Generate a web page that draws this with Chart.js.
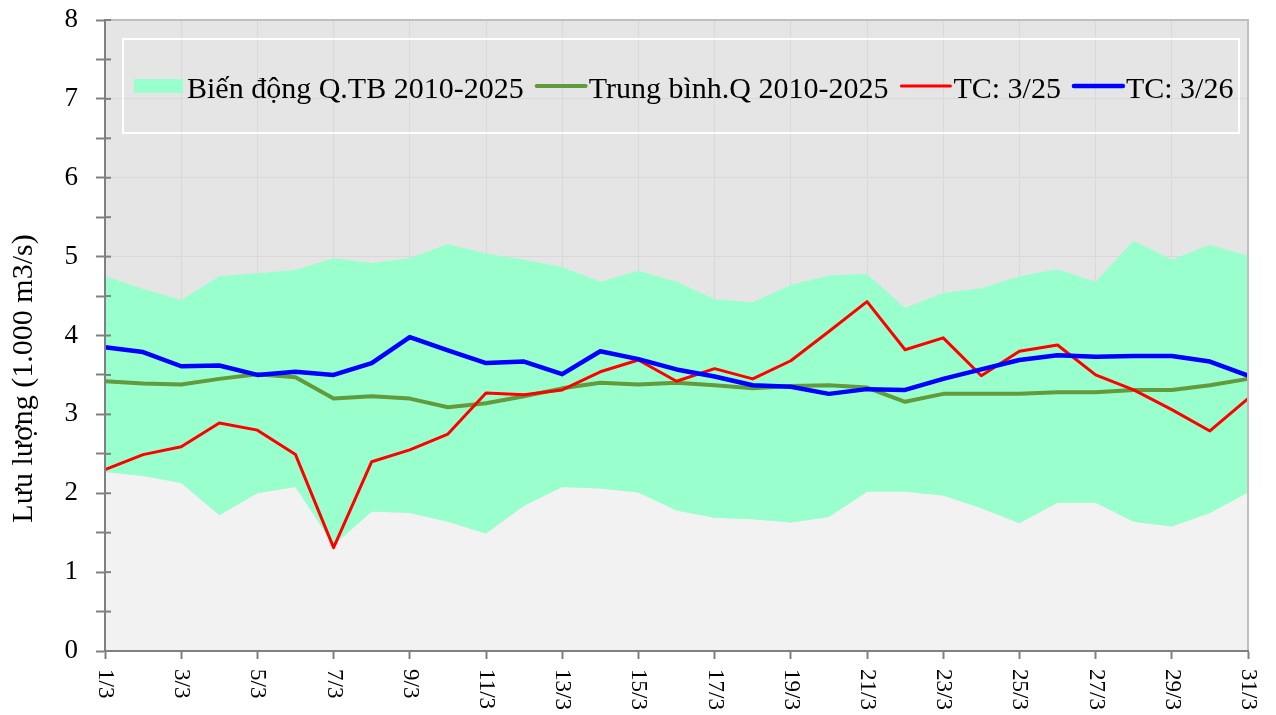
<!DOCTYPE html>
<html>
<head>
<meta charset="utf-8">
<script src="https://cdn.jsdelivr.net/npm/chart.js@4"></script>
<style>
  body { margin: 0; background: #fff; }
</style>
</head>
<body>
<canvas id="flowChart" width="1276" height="715"></canvas>
<script>
// ngày trong tháng 3
const days = ['1/3', '2/3', '3/3', '4/3', '5/3', '6/3', '7/3', '8/3', '9/3', '10/3',
    '11/3', '12/3', '13/3', '14/3', '15/3', '16/3', '17/3', '18/3', '19/3', '20/3',
    '21/3', '22/3', '23/3', '24/3', '25/3', '26/3', '27/3', '28/3', '29/3', '30/3', '31/3'];

// Biến động Q.TB 2010-2025 (min / max)
const qMin = [2.27, 2.22, 2.13, 1.72, 2.00, 2.08, 1.34, 1.77, 1.75, 1.64,
    1.49, 1.84, 2.08, 2.06, 2.01, 1.78, 1.69, 1.67, 1.63, 1.70,
    2.02, 2.02, 1.97, 1.81, 1.62, 1.88, 1.88, 1.64, 1.58, 1.75, 2.01];
const qMax = [4.75, 4.59, 4.45, 4.75, 4.79, 4.83, 4.98, 4.92, 4.98, 5.16,
    5.04, 4.96, 4.87, 4.68, 4.82, 4.68, 4.46, 4.42, 4.64, 4.76,
    4.78, 4.35, 4.54, 4.60, 4.75, 4.84, 4.68, 5.20, 4.96, 5.15, 5.01];

// Trung bình.Q 2010-2025
const qAvg = [3.42, 3.39, 3.38, 3.45, 3.51, 3.47, 3.20, 3.23, 3.20, 3.09,
    3.14, 3.23, 3.33, 3.40, 3.38, 3.40, 3.37, 3.33, 3.36, 3.37,
    3.34, 3.16, 3.26, 3.26, 3.26, 3.28, 3.28, 3.31, 3.31, 3.37, 3.45];

// TC: 3/25
const tc25 = [2.30, 2.49, 2.59, 2.89, 2.80, 2.49, 1.31, 2.40, 2.55, 2.75,
    3.27, 3.25, 3.31, 3.54, 3.69, 3.42, 3.58, 3.45, 3.68, 4.05,
    4.43, 3.82, 3.97, 3.49, 3.80, 3.88, 3.50, 3.31, 3.06, 2.79, 3.20];

// TC: 3/26
const tc26 = [3.85, 3.79, 3.61, 3.62, 3.50, 3.54, 3.50, 3.65, 3.98, 3.81,
    3.65, 3.67, 3.51, 3.80, 3.70, 3.57, 3.48, 3.37, 3.35, 3.26,
    3.32, 3.31, 3.45, 3.57, 3.69, 3.75, 3.73, 3.74, 3.74, 3.67, 3.49];

const yTicks = [0, 1, 2, 3, 4, 5, 6, 7, 8];

const FONT = "'Liberation Serif', 'Times New Roman', serif";
Chart.defaults.font.family = FONT;
Chart.defaults.color = '#000';

// nền vùng vẽ, nhãn trục X xoay, tiêu đề trục Y và chú thích kiểu Excel
const excelLook = {
    id: 'excelLook',
    beforeDraw(chart) {
        const { ctx, chartArea: a } = chart;
        ctx.save();
        ctx.fillStyle = '#e5e5e5';
        ctx.fillRect(a.left, a.top, a.right - a.left, a.bottom - a.top);
        ctx.restore();
    },
    afterDatasetsDraw(chart) {
        const { ctx, chartArea: a } = chart;
        const y = chart.scales.y;
        ctx.save();
        ctx.strokeStyle = '#bfbfbf';
        ctx.lineWidth = 2;
        ctx.beginPath();
        ctx.moveTo(a.left, a.top);
        ctx.lineTo(a.right, a.top);
        ctx.lineTo(a.right, a.bottom);
        ctx.stroke();
        // vạch chia trục Y cắt vào trong vùng vẽ
        ctx.strokeStyle = '#808080';
        y.ticks.forEach((t, i) => {
            const py = y.getPixelForTick(i);
            ctx.beginPath();
            ctx.moveTo(a.left, py);
            ctx.lineTo(a.left + 6, py);
            ctx.stroke();
        });
        ctx.restore();
    },
    afterDraw(chart) {
        const { ctx, chartArea: a } = chart;
        const x = chart.scales.x;
        ctx.save();

        // nhãn ngày, xoay theo chiều kim đồng hồ
        ctx.font = '23px ' + FONT;
        ctx.fillStyle = '#000';
        ctx.textAlign = 'left';
        ctx.textBaseline = 'middle';
        x.ticks.forEach((t, i) => {
            if (i % 2) return;
            ctx.save();
            ctx.translate(x.getPixelForTick(i), a.bottom + 18);
            ctx.rotate(Math.PI / 2);
            ctx.fillText(days[i], 0, 0);
            ctx.restore();
        });

        // tiêu đề trục Y
        ctx.save();
        ctx.font = '30px ' + FONT;
        ctx.textAlign = 'center';
        ctx.translate(24, (a.top + a.bottom) / 2 + 43);
        ctx.rotate(-Math.PI / 2);
        ctx.fillText('Lưu lượng (1.000 m3/s)', 0, 0);
        ctx.restore();

        // chú thích
        ctx.strokeStyle = '#fff';
        ctx.lineWidth = 2;
        ctx.strokeRect(a.left + 18, a.top + 19, a.right - a.left - 27, 94);

        let lx = a.left + 29;
        const ly = a.top + 66;
        ctx.font = '30px ' + FONT;
        ctx.textBaseline = 'alphabetic';
        chart.data.datasets.forEach(ds => {
            if (!ds.label) return;
            if (ds.fill) {
                ctx.fillStyle = ds.backgroundColor;
                ctx.fillRect(lx, ly - 7, 49, 14);
            } else {
                ctx.strokeStyle = ds.borderColor;
                ctx.lineWidth = ds.borderWidth;
                ctx.lineCap = 'round';
                ctx.beginPath();
                ctx.moveTo(lx + 1, ly);
                ctx.lineTo(lx + 50, ly);
                ctx.stroke();
            }
            ctx.fillStyle = '#000';
            ctx.fillText(ds.label, lx + 53, ly + 12);
            lx += 53 + ctx.measureText(ds.label).width + 12;
        });
        ctx.restore();
    }
};

const flowChart = new Chart(document.getElementById('flowChart'), {
    type: 'line',
    data: {
        labels: days,
        datasets: [
            {
                label: '',
                data: qMin,
                fill: 'origin',
                backgroundColor: '#f2f2f2',
                borderWidth: 0,
                pointRadius: 0,
                order: 4
            },
            {
                label: 'Biến động Q.TB 2010-2025',
                data: qMax,
                fill: '-1',
                backgroundColor: '#99ffcc',
                borderWidth: 0,
                pointRadius: 0,
                order: 3
            },
            {
                label: 'Trung bình.Q 2010-2025',
                data: qAvg,
                fill: false,
                borderColor: '#619b3c',
                borderWidth: 4,
                pointRadius: 0,
                order: 2
            },
            {
                label: 'TC: 3/25',
                data: tc25,
                fill: false,
                borderColor: '#ff0000',
                borderWidth: 3,
                pointRadius: 0,
                order: 1
            },
            {
                label: 'TC: 3/26',
                data: tc26,
                fill: false,
                borderColor: '#0000ff',
                borderWidth: 4.5,
                pointRadius: 0,
                order: 0
            }
        ]
    },
    options: {
        responsive: false,
        animation: false,
        devicePixelRatio: 1,
        layout: { padding: { top: 20, right: 28, left: 0, bottom: 0 } },
        elements: { line: { tension: 0, borderJoinStyle: 'round' } },
        plugins: {
            legend: { display: false },
            tooltip: { enabled: false }
        },
        scales: {
            x: {
                ticks: { display: false, autoSkip: false },
                grid: {
                    color: c => c.index % 2 === 0 ? '#d9d9d9' : 'rgba(0,0,0,0)',
                    tickColor: c => c.index % 2 === 0 ? '#808080' : 'rgba(0,0,0,0)',
                    tickLength: 8,
                    tickWidth: 2,
                    lineWidth: 1
                },
                border: { color: '#808080', width: 2, z: 1 },
                afterFit: scale => { scale.height = 64; }
            },
            y: {
                min: yTicks[0],
                max: yTicks[yTicks.length - 1],
                ticks: {
                    stepSize: 0.5,
                    padding: 18,
                    font: { size: 27 },
                    color: '#000',
                    callback: v => yTicks.includes(v) ? String(v) : ''
                },
                grid: {
                    color: c => yTicks.includes(c.tick.value) ? '#d9d9d9' : 'rgba(0,0,0,0)',
                    tickColor: '#808080',
                    tickLength: 9,
                    tickWidth: 2,
                    lineWidth: 1
                },
                border: { color: '#808080', width: 2, z: 1 },
                afterFit: scale => {
                    scale.width = 105;
                    scale.paddingTop = 0;
                    scale.paddingBottom = 0;
                }
            }
        }
    },
    plugins: [excelLook]
});
</script>
</body>
</html>
